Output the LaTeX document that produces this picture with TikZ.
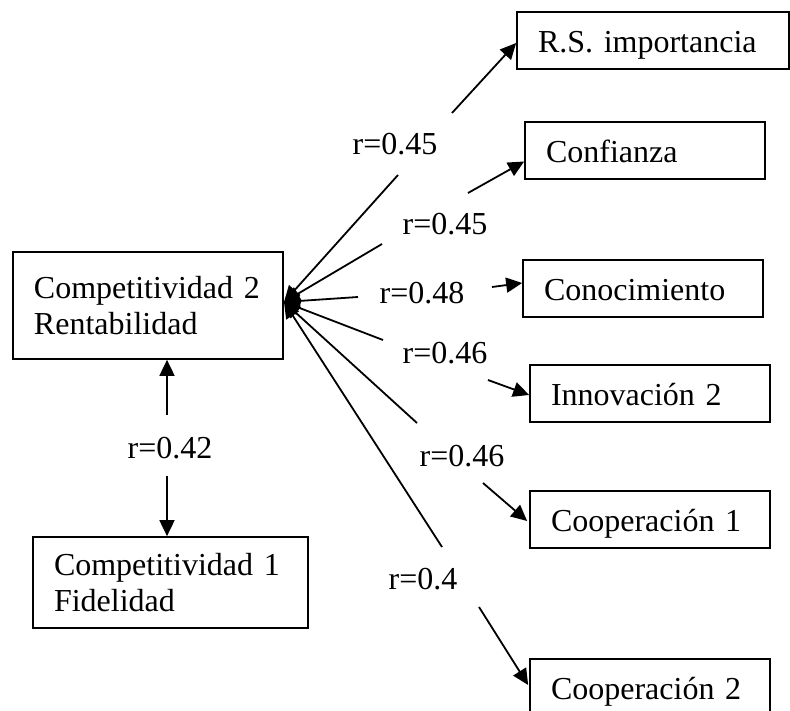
\documentclass[tikz,border=0pt]{standalone}
\usepackage{fontspec}
\setmainfont{Liberation Serif}
\usetikzlibrary{arrows.meta,calc}
\begin{document}
\begin{tikzpicture}[x=1pt,y=-1pt,
  box/.style={draw, line width=1.7pt, rectangle, inner xsep=21pt, inner ysep=0pt, align=left, font=\fontsize{32}{36.8}\selectfont},
  onebox/.style={box, minimum height=57pt, text height=26pt, text depth=2pt},
  lbl/.style={anchor=base, inner sep=0pt, font=\fontsize{32}{36.8}\selectfont},
  conn/.style={line width=1.8pt, -{Triangle[length=16pt,width=15pt]}},
]
\clip (0,0) rectangle (790,711);
% boxes
\node[onebox, text width=230pt] (rs) at (653,40.5) {R.S. importancia};
\node[onebox, text width=198pt] (conf) at (645,150.5) {Confianza};
\node[onebox, text width=198pt] (cono) at (643,288.5) {Conocimiento};
\node[onebox, text width=198pt] (inno) at (650,393.5) {Innovación 2};
\node[onebox, text width=198pt] (coop1) at (650,519.5) {Cooperación 1};
\node[onebox, text width=198pt] (coop2) at (650,687.5) {Cooperación 2};
\node[box, text width=228pt, minimum height=107pt] (comp2) at (148,305.5) {Competitividad 2\\Rentabilidad};
\node[box, text width=233pt, minimum height=91pt] (comp1) at (170.5,582.5) {Competitividad 1\\Fidelidad};
% hub
\coordinate (hub) at (284,302);
% R.S. importancia
\coordinate (a1) at (398,175); \coordinate (b1) at (452,113);
\draw[conn] (a1) -- (hub);
\draw[conn] (b1) -- ($(rs.west)+(0,2.5)$);
\node[lbl] (l1) at (395,155) {r=0.45};
% Confianza
\coordinate (a2) at (382,244); \coordinate (b2) at (468,193);
\draw[conn] (a2) -- (hub);
\draw[conn] (b2) -- ($(conf.west)+(0,11)$);
\node[lbl] (l2) at (445,235) {r=0.45};
% Conocimiento
\coordinate (a3) at (358,297); \coordinate (b3) at (492,287);
\draw[conn] (a3) -- (hub);
\draw[conn] (b3) -- ($(cono.west)+(0,-5.5)$);
\node[lbl] (l3) at (422,304) {r=0.48};
% Innovacion 2
\coordinate (a4) at (383,340); \coordinate (b4) at (488,380);
\draw[conn] (a4) -- (hub);
\draw[conn] (b4) -- ($(inno.west)+(0,1.5)$);
\node[lbl] (l4) at (445,363) {r=0.46};
% Cooperacion 1
\coordinate (a5) at (417,423); \coordinate (b5) at (483,483);
\draw[conn] (a5) -- (hub);
\draw[conn] (b5) -- ($(coop1.west)+(-2,1.5)$);
\node[lbl] (l5) at (462,466) {r=0.46};
% Cooperacion 2
\coordinate (a6) at (442,547); \coordinate (b6) at (479,607);
\draw[conn] (a6) -- (hub);
\draw[conn] (b6) -- ($(coop2.west)+(-1,-2.5)$);
\node[lbl] (l6) at (423,589) {r=0.4};
% Competitividad 1 <-> 2
\coordinate (a7) at (167,415); \coordinate (b7) at (167,476);
\draw[conn] (a7) -- (comp2.south -| a7);
\draw[conn] (b7) -- (comp1.north -| b7);
\node[lbl] (l7) at (170,458) {r=0.42};
\end{tikzpicture}
\end{document}
